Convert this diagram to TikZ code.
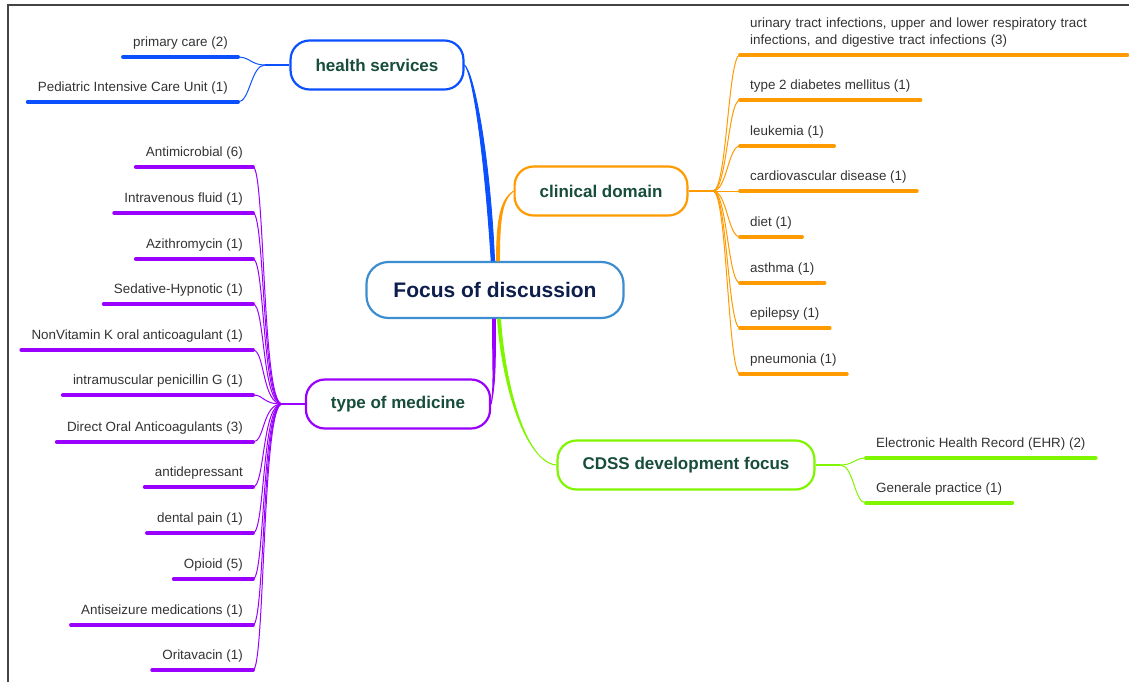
\documentclass[tikz,border=0pt]{standalone}
\usepackage{fontspec}
\setmainfont{Liberation Sans}
\definecolor{hsblue}{HTML}{0A50FF}
\definecolor{cdorange}{HTML}{FF9A00}
\definecolor{tmpurple}{HTML}{9A00FF}
\definecolor{dvgreen}{HTML}{80F500}
\definecolor{focusblue}{HTML}{3D8ED0}
\definecolor{topicgreen}{HTML}{174D3A}
\definecolor{focusnavy}{HTML}{0E1E4C}
\definecolor{leafgray}{HTML}{333333}
\definecolor{framegray}{HTML}{444444}
\tikzset{
	focus/.style={draw=focusblue, line width=2.2pt, rounded corners=22pt, fill=white, inner xsep=27pt, minimum height=56pt, text=focusnavy, font=\bfseries\fontsize{21}{25}\selectfont},
	topic/.style={draw, line width=2.2pt, rounded corners=19pt, fill=white, inner xsep=25pt, minimum height=49pt, text=topicgreen, font=\bfseries\fontsize{17}{20}\selectfont},
	leaf/.style={inner xsep=10pt, inner ysep=7pt, text height=10pt, text depth=3pt, text=leafgray, font=\fontsize{13.4}{17}\selectfont},
	uline/.style={line width=3.8pt, line cap=round},
	hsleaf/.style={leaf, append after command={(\tikzlastnode.south west) edge[uline, hsblue] (\tikzlastnode.south east)}},
	cdleaf/.style={leaf, append after command={(\tikzlastnode.south west) edge[uline, cdorange] (\tikzlastnode.south east)}},
	tmleaf/.style={leaf, append after command={(\tikzlastnode.south west) edge[uline, tmpurple] (\tikzlastnode.south east)}},
	dvleaf/.style={leaf, append after command={(\tikzlastnode.south west) edge[uline, dvgreen] (\tikzlastnode.south east)}},
	branch/.style={line width=0.9pt, line join=round},
	twig/.style={line width=1pt},
	stem/.style={line width=1.6pt},
}
\begin{document}
\begin{tikzpicture}[x=1pt, y=-1pt]
		%%%%% FRAME %%%%%
		\useasboundingbox (0,0) rectangle (1129,682);
		\draw[framegray, line width=1.2pt] (8,682) -- (8,5) -- (1129,5);
		
		%%%%% MAIN NODES %%%%%
		\node[focus] (fc) at (495,290) {Focus of discussion};
		\node[topic, draw=hsblue] (hs) at (377,65) {health services};
		\node[topic, draw=cdorange] (cd) at (601,191) {clinical domain};
		\node[topic, draw=tmpurple] (tm) at (398,404) {type of medicine};
		\node[topic, draw=dvgreen] (dv) at (686,465) {CDSS development focus};
		
		\coordinate (hsj) at (265,65);
		\coordinate (cdj) at (713,191);
		\coordinate (tmj) at (282,404);
		\coordinate (dvj) at (840,465);
		
		%%%%% BRANCHES (thin at the topic, wide at the focus) %%%%%
		\filldraw[branch, hsblue] (hs.east) .. controls +(8,8) and +(-7,-110) .. ([xshift=-3.8pt]fc.north) -- ([xshift=-0.4pt]fc.north) .. controls +(-5,-110) and +(9,7) .. (hs.east) -- cycle;
		\filldraw[branch, cdorange] (cd.west) .. controls +(-12,8) and +(0,-45) .. ([xshift=1.5pt]fc.north) -- ([xshift=4.5pt]fc.north) .. controls +(0,-45) and +(-11,9) .. (cd.west) -- cycle;
		\filldraw[branch, tmpurple] (tm.east) .. controls +(3,-20) and +(0,50) .. ([xshift=-2.5pt]fc.south) -- ([xshift=0.5pt]fc.south) .. controls +(0,50) and +(4,-20) .. (tm.east) -- cycle;
		\filldraw[branch, dvgreen] (dv.west) .. controls +(-30,-3) and +(5,70) .. ([xshift=2.5pt]fc.south) -- ([xshift=5.5pt]fc.south) .. controls +(5,70) and +(-30,-2) .. (dv.west) -- cycle;
		
		\draw[stem, hsblue] (hs.west) -- (hsj);
		\draw[stem, cdorange] (cd.east) -- (cdj);
		\draw[stem, tmpurple] (tm.west) -- (tmj);
		\draw[stem, dvgreen] (dv.east) -- (dvj);
		
		%%%%% health services %%%%%
		\node[hsleaf, anchor=south east] (hs1) at (238,57) {primary care (2)};
		\node[hsleaf, anchor=south east] (hs2) at (238,102) {Pediatric Intensive Care Unit (1)};
		\draw[twig, hsblue] (hsj) .. controls +(-14,0) and +(12,0) .. (hs1.south east);
		\draw[twig, hsblue] (hsj) .. controls +(-14,0) and +(12,0) .. (hs2.south east);
		
		%%%%% clinical domain %%%%%
		\node[cdleaf, anchor=south west, text width=367pt, align=left, text depth=20pt] (cd1) at (740,55) {urinary tract infections, upper and lower respiratory tract\\infections, and digestive tract infections (3)};
		\node[cdleaf, anchor=south west] (cd2) at (740,100) {type 2 diabetes mellitus (1)};
		\node[cdleaf, anchor=south west] (cd3) at (740,146) {leukemia (1)};
		\node[cdleaf, anchor=south west] (cd4) at (740,191) {cardiovascular disease (1)};
		\node[cdleaf, anchor=south west] (cd5) at (740,237) {diet (1)};
		\node[cdleaf, anchor=south west] (cd6) at (740,283) {asthma (1)};
		\node[cdleaf, anchor=south west] (cd7) at (740,328) {epilepsy (1)};
		\node[cdleaf, anchor=south west] (cd8) at (740,374) {pneumonia (1)};
		\draw[twig, cdorange] (cdj) .. controls +(14,0) and +(-12,0) .. (cd1.south west);
		\draw[twig, cdorange] (cdj) .. controls +(14,0) and +(-12,0) .. (cd2.south west);
		\draw[twig, cdorange] (cdj) .. controls +(14,0) and +(-12,0) .. (cd3.south west);
		\draw[twig, cdorange] (cdj) -- (cd4.south west);
		\draw[twig, cdorange] (cdj) .. controls +(14,0) and +(-12,0) .. (cd5.south west);
		\draw[twig, cdorange] (cdj) .. controls +(14,0) and +(-12,0) .. (cd6.south west);
		\draw[twig, cdorange] (cdj) .. controls +(14,0) and +(-12,0) .. (cd7.south west);
		\draw[twig, cdorange] (cdj) .. controls +(14,0) and +(-12,0) .. (cd8.south west);
		
		%%%%% type of medicine %%%%%
		\node[tmleaf, anchor=south east] (tm1) at (253,167) {Antimicrobial (6)};
		\node[tmleaf, anchor=south east] (tm2) at (253,213) {Intravenous fluid (1)};
		\node[tmleaf, anchor=south east] (tm3) at (253,259) {Azithromycin (1)};
		\node[tmleaf, anchor=south east] (tm4) at (253,304) {Sedative-Hypnotic (1)};
		\node[tmleaf, anchor=south east] (tm5) at (253,350) {NonVitamin K oral anticoagulant (1)};
		\node[tmleaf, anchor=south east] (tm6) at (253,395) {intramuscular penicillin G (1)};
		\node[tmleaf, anchor=south east] (tm7) at (253,442) {Direct Oral Anticoagulants (3)};
		\node[tmleaf, anchor=south east] (tm8) at (253,487) {antidepressant};
		\node[tmleaf, anchor=south east] (tm9) at (253,533) {dental pain (1)};
		\node[tmleaf, anchor=south east] (tm10) at (253,579) {Opioid (5)};
		\node[tmleaf, anchor=south east] (tm11) at (253,625) {Antiseizure medications (1)};
		\node[tmleaf, anchor=south east] (tm12) at (253,670) {Oritavacin (1)};
		\draw[twig, tmpurple] (tmj) .. controls +(-20,0) and +(12,0) .. (tm1.south east);
		\draw[twig, tmpurple] (tmj) .. controls +(-20,0) and +(12,0) .. (tm2.south east);
		\draw[twig, tmpurple] (tmj) .. controls +(-20,0) and +(12,0) .. (tm3.south east);
		\draw[twig, tmpurple] (tmj) .. controls +(-20,0) and +(12,0) .. (tm4.south east);
		\draw[twig, tmpurple] (tmj) .. controls +(-20,0) and +(12,0) .. (tm5.south east);
		\draw[twig, tmpurple] (tmj) .. controls +(-20,0) and +(12,0) .. (tm6.south east);
		\draw[twig, tmpurple] (tmj) .. controls +(-20,0) and +(12,0) .. (tm7.south east);
		\draw[twig, tmpurple] (tmj) .. controls +(-20,0) and +(12,0) .. (tm8.south east);
		\draw[twig, tmpurple] (tmj) .. controls +(-20,0) and +(12,0) .. (tm9.south east);
		\draw[twig, tmpurple] (tmj) .. controls +(-20,0) and +(12,0) .. (tm10.south east);
		\draw[twig, tmpurple] (tmj) .. controls +(-20,0) and +(12,0) .. (tm11.south east);
		\draw[twig, tmpurple] (tmj) .. controls +(-20,0) and +(12,0) .. (tm12.south east);
		
		%%%%% CDSS development focus %%%%%
		\node[dvleaf, anchor=south west] (dv1) at (866,458) {Electronic Health Record (EHR) (2)};
		\node[dvleaf, anchor=south west] (dv2) at (866,503) {Generale practice (1)};
		\draw[twig, dvgreen] (dvj) .. controls +(14,0) and +(-12,0) .. (dv1.south west);
		\draw[twig, dvgreen] (dvj) .. controls +(14,0) and +(-12,0) .. (dv2.south west);
	\end{tikzpicture}
\end{document}
